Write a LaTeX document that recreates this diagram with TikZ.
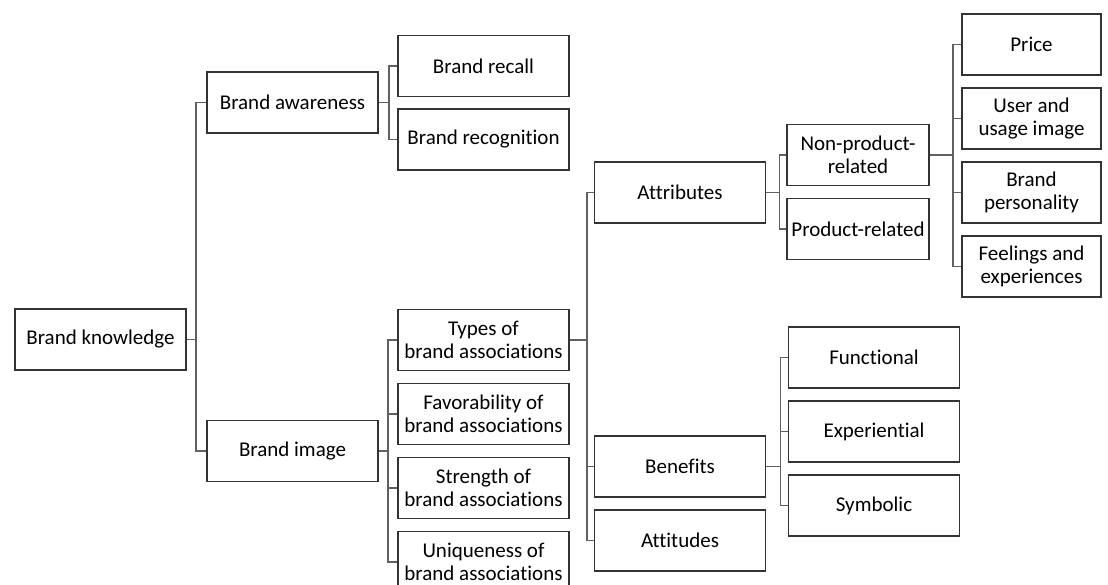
\documentclass[tikz,border=0pt]{standalone}
\usepackage{fontspec}
\setmainfont{Carlito}[Ligatures=NoCommon]
\begin{document}
\begin{tikzpicture}[x=1pt,y=-1pt,
  box/.style={draw=black!80,line width=1.6pt,fill=white,align=center,
    minimum width=171pt,minimum height=61pt,inner sep=1pt,
    font=\fontsize{21}{22.5}\selectfont},
  narrow/.style={box,minimum width=142pt},
  slim/.style={box,minimum width=139pt},
  conn/.style={draw=black!62,line width=1.6pt}]
\useasboundingbox (0,0) rectangle (1108,585);

% root and first level
\node[box] (bk) at (100.5,339.5) {Brand knowledge};
\node[box] (aw) at (292.5,102.5) {Brand awareness};
\node[box] (im) at (292.5,451) {Brand image};

% brand awareness
\node[box] (recall) at (483.5,66) {Brand recall};
\node[box] (recog) at (483.5,139.5) {Brand recognition};

% brand image
\node[box] (types) at (483.5,340) {Types of\\brand associations};
\node[box] (fav) at (483.5,414) {Favorability of\\brand associations};
\node[box] (str) at (483.5,488) {Strength of\\brand associations};
\node[box] (uni) at (483.5,562) {Uniqueness of\\brand associations};

% types of brand associations
\node[box] (attr) at (680,192.5) {Attributes};
\node[box] (ben) at (680,466.5) {Benefits};
\node[box] (att) at (680,540.5) {Attitudes};

% attributes
\node[narrow] (np) at (858,155) {Non-product-\\related};
\node[narrow] (pr) at (858,229) {Product-related};

% non-product-related
\node[slim] (price) at (1031.5,44.5) {Price};
\node[slim] (user) at (1031.5,118.5) {User and\\usage image};
\node[slim] (pers) at (1031.5,192.5) {Brand\\personality};
\node[slim] (feel) at (1031.5,266.5) {Feelings and\\experiences};

% benefits
\node[box] (func) at (874,357.5) {Functional};
\node[box] (exp) at (874,431.5) {Experiential};
\node[box] (sym) at (874,505.5) {Symbolic};

% elbow connectors
\foreach \c in {aw,im} \draw[conn] (bk.east) -- ++(9,0) |- (\c.west);
\foreach \c in {recall,recog} \draw[conn] (aw.east) -- ++(10,0) |- (\c.west);
\foreach \c in {types,fav,str,uni} \draw[conn] (im.east) -- ++(9,0) |- (\c.west);
\foreach \c in {attr,ben,att} \draw[conn] (types.east) -- ++(17,0) |- (\c.west);
\foreach \c in {np,pr} \draw[conn] (attr.east) -- ++(13,0) |- (\c.west);
\foreach \c in {price,user,pers,feel} \draw[conn] (np.east) -- ++(23,0) |- (\c.west);
\foreach \c in {func,exp,sym} \draw[conn] (ben.east) -- ++(14,0) |- (\c.west);
\end{tikzpicture}
\end{document}
